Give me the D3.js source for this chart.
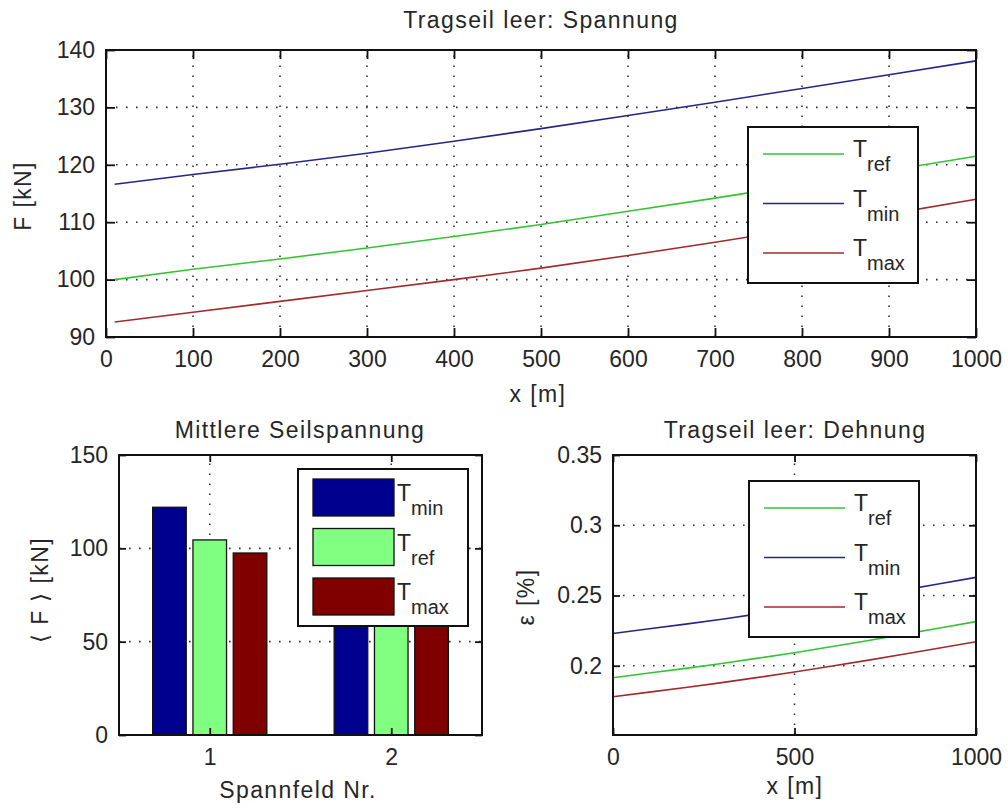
<!DOCTYPE html>
<html>
<head>
<meta charset="utf-8">
<script src="https://cdn.jsdelivr.net/npm/d3@7"></script>
<style>
body { margin: 0; background: #fff; }
svg text { font-family: "Liberation Sans", Arial, sans-serif; fill: #262626; }
</style>
</head>
<body>
<div id="chart"></div>
<script>
// Tragseil leer: Spannung (top)
var xPos = [10, 100, 200, 300, 400, 500, 600, 700, 800, 900, 1000];
var fRef = [100.0, 101.8, 103.6, 105.5, 107.5, 109.6, 111.9, 114.2, 116.6, 119.0, 121.5];
var fMin = [116.6, 118.3, 120.1, 122.0, 124.1, 126.3, 128.6, 130.9, 133.3, 135.7, 138.1];
var fMax = [92.6, 94.3, 96.2, 98.1, 100.0, 102.0, 104.2, 106.5, 108.9, 111.4, 114.0];
var fTicks = [90, 100, 110, 120, 130, 140];
var xTicks = [0, 100, 200, 300, 400, 500, 600, 700, 800, 900, 1000];

// Mittlere Seilspannung (bottom left)
var spans = [1, 2];
var meanMin = [122, 119];
var meanRef = [104.5, 102];
var meanMax = [97.5, 95];
var meanTicks = [0, 50, 100, 150];

// Tragseil leer: Dehnung (bottom right)
var xEps = [0, 100, 200, 300, 400, 500, 600, 700, 800, 900, 1000];
var epsRef = [0.1914, 0.1948, 0.1981, 0.2016, 0.2054, 0.2093, 0.2135, 0.2178, 0.2223, 0.2268, 0.2314];
var epsMin = [0.2229, 0.2263, 0.2296, 0.2331, 0.2369, 0.2408, 0.2450, 0.2493, 0.2538, 0.2583, 0.2629];
var epsMax = [0.1779, 0.1812, 0.1845, 0.1880, 0.1917, 0.1955, 0.1996, 0.2038, 0.2082, 0.2126, 0.2171];
var epsTicks = [0.2, 0.25, 0.3, 0.35];
var xEpsTicks = [0, 500, 1000];

var lineColors = { ref: "#33c433", min: "#26268a", max: "#a32a2a" };
var barColors = { min: "#00008f", ref: "#80ff80", max: "#800000" };

var width = 1008;
var height = 810;
var fontSize = 23;

var svg = d3.select("#chart")
  .append("svg")
    .attr("width", width)
    .attr("height", height);

function translate(x, y) {
  return "translate(" + x + "," + y + ")";
}

function fmt(d) {
  return String(+d.toFixed(2));
}

// dotted grid inside one subplot
function drawGrid(x, y, xt, yt) {
  var g = svg.append("g")
    .attr("stroke", "#333")
    .attr("stroke-width", 1.6)
    .attr("stroke-dasharray", "1.6,8.4");
  var xd = x.domain(), yd = y.domain();
  g.selectAll("line.v")
    .data(xt.filter(function (d) { return d > xd[0] && d < xd[1]; }))
    .enter().append("line")
      .attr("x1", x).attr("x2", x)
      .attr("y1", y.range()[0]).attr("y2", y.range()[1]);
  g.selectAll("line.h")
    .data(yt.filter(function (d) { return d > yd[0] && d < yd[1]; }))
    .enter().append("line")
      .attr("x1", x.range()[0]).attr("x2", x.range()[1])
      .attr("y1", y).attr("y2", y);
}

// inside ticks on all four sides + box
function drawFrame(x, y, xt, yt, tickLen, xfmt) {
  var x0 = x.range()[0], x1 = x.range()[1];
  var y0 = y.range()[0], y1 = y.range()[1];

  function style(g) {
    g.attr("font-size", fontSize)
      .attr("font-family", null)
      .attr("color", "#111");
    g.select(".domain").remove();
    g.selectAll(".tick line").attr("stroke-width", 1.8);
  }

  svg.append("g")
    .attr("transform", translate(0, y0))
    .call(d3.axisBottom(x).tickValues(xt).tickSize(-tickLen).tickPadding(14).tickFormat(xfmt || fmt))
    .call(style);
  svg.append("g")
    .attr("transform", translate(0, y1))
    .call(d3.axisTop(x).tickValues(xt).tickSize(-tickLen).tickFormat(""))
    .call(style);
  svg.append("g")
    .attr("transform", translate(x0, 0))
    .call(d3.axisLeft(y).tickValues(yt).tickSize(-tickLen).tickPadding(11).tickFormat(fmt))
    .call(style);
  svg.append("g")
    .attr("transform", translate(x1, 0))
    .call(d3.axisRight(y).tickValues(yt).tickSize(-tickLen).tickFormat(""))
    .call(style);

  svg.append("rect")
    .attr("x", x0).attr("y", y1)
    .attr("width", x1 - x0).attr("height", y0 - y1)
    .attr("fill", "none")
    .attr("stroke", "#111")
    .attr("stroke-width", 2);
}

function label(txt, x, y, rotate) {
  svg.append("text")
    .attr("transform", translate(x, y) + (rotate ? " rotate(-90)" : ""))
    .attr("text-anchor", "middle")
    .attr("font-size", fontSize)
    .attr("letter-spacing", 1.4)
    .text(txt);
}

function drawLines(x, y, xs, series) {
  var line = d3.line();
  series.forEach(function (s) {
    svg.append("path")
      .attr("d", line(xs.map(function (d, i) { return [x(d), y(s.values[i])]; })))
      .attr("fill", "none")
      .attr("stroke", lineColors[s.key])
      .attr("stroke-width", 1.6);
  });
}

function tLabel(g, sub, x, y) {
  var t = g.append("text")
    .attr("x", x)
    .attr("y", y)
    .attr("font-size", 23)
    .text("T");
  t.append("tspan")
    .attr("dy", 14)
    .attr("font-size", 20)
    .text(sub);
}

function lineLegend(x, y, keys) {
  var g = svg.append("g").attr("transform", translate(x, y));
  g.append("rect")
    .attr("width", 170).attr("height", 156)
    .attr("fill", "#fff")
    .attr("stroke", "#111")
    .attr("stroke-width", 2);
  keys.forEach(function (k, i) {
    var ly = 27 + i * 49.5;
    g.append("line")
      .attr("x1", 15).attr("x2", 96)
      .attr("y1", ly).attr("y2", ly)
      .attr("stroke", lineColors[k])
      .attr("stroke-width", 1.6);
    tLabel(g, k, 105, ly + 3);
  });
}

// ---- top plot ----
var x1 = d3.scaleLinear().domain([0, 1000]).range([106, 976]);
var y1 = d3.scaleLinear().domain([90, 140]).range([337, 50]);

drawGrid(x1, y1, xTicks, fTicks);
drawLines(x1, y1, xPos, [
  { key: "ref", values: fRef },
  { key: "min", values: fMin },
  { key: "max", values: fMax }
]);
drawFrame(x1, y1, xTicks, fTicks, 9);
lineLegend(748, 127, ["ref", "min", "max"]);
label("Tragseil leer: Spannung", 541, 28);
label("x [m]", 538, 402);
label("F [kN]", 31, 196, true);

// ---- bottom left: bars ----
var x2 = d3.scaleLinear().domain([0.5, 2.5]).range([119, 482]);
var y2 = d3.scaleLinear().domain([0, 150]).range([735, 455]);
var barW = 0.185;
var barSeries = [
  { key: "min", values: meanMin, off: -0.222 },
  { key: "ref", values: meanRef, off: 0 },
  { key: "max", values: meanMax, off: 0.222 }
];

drawGrid(x2, y2, spans, meanTicks);
barSeries.forEach(function (s) {
  svg.selectAll("rect.bar-" + s.key)
    .data(spans)
    .enter().append("rect")
      .attr("class", "bar-" + s.key)
      .attr("x", function (d) { return x2(d + s.off - barW / 2); })
      .attr("width", x2(barW) - x2(0))
      .attr("y", function (d, i) { return y2(s.values[i]); })
      .attr("height", function (d, i) { return y2(0) - y2(s.values[i]); })
      .attr("fill", barColors[s.key])
      .attr("stroke", "#111")
      .attr("stroke-width", 1.3);
});
drawFrame(x2, y2, spans, meanTicks, 7, function (d) { return d; });

var bl = svg.append("g").attr("transform", translate(298, 469));
bl.append("rect")
  .attr("width", 170).attr("height", 157)
  .attr("fill", "#fff")
  .attr("stroke", "#111")
  .attr("stroke-width", 2);
barSeries.forEach(function (s, i) {
  var sy = 10 + i * 49.5;
  bl.append("rect")
    .attr("x", 15).attr("y", sy)
    .attr("width", 81).attr("height", 37)
    .attr("fill", barColors[s.key])
    .attr("stroke", "#111")
    .attr("stroke-width", 1.3);
  tLabel(bl, s.key, 99, sy + 22);
});

label("Mittlere Seilspannung", 300, 438);
label("Spannfeld Nr.", 298, 798);
label("\u27E8 F \u27E9 [kN]", 48, 590, true);

// ---- bottom right: strain ----
var x3 = d3.scaleLinear().domain([0, 1000]).range([613, 976]);
var y3 = d3.scaleLinear().domain([0.1507, 0.35]).range([735, 455]);

drawGrid(x3, y3, xEpsTicks, epsTicks);
drawLines(x3, y3, xEps, [
  { key: "ref", values: epsRef },
  { key: "min", values: epsMin },
  { key: "max", values: epsMax }
]);
drawFrame(x3, y3, xEpsTicks, epsTicks, 7);
lineLegend(749, 481, ["ref", "min", "max"]);
label("Tragseil leer: Dehnung", 795, 438);
label("x [m]", 795, 794);
label("\u03B5 [%]", 534, 597, true);
</script>
</body>
</html>
